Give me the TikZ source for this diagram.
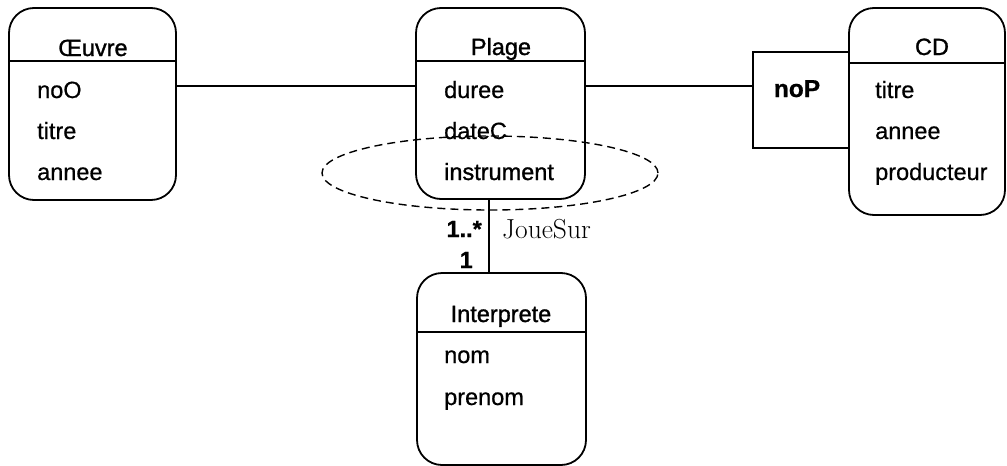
\documentclass[tikz,border=0pt]{standalone}
\usepackage{fontspec}
\newfontfamily\arial{Liberation Sans}[FakeBold=0.6]
\newfontfamily\arialh{Liberation Sans}[FakeBold=1.2]
\usetikzlibrary{calc,shapes.geometric}
\tikzset{
  entity/.style={draw, line width=1.8pt, rounded corners=25pt, inner sep=0pt},
  keybox/.style={draw, line width=1.8pt, inner sep=0pt},
  link/.style={line width=1.8pt},
  sep/.style={line width=1.8pt},
  txt/.style={inner sep=0pt, font=\arial\fontsize{23.5}{28}\selectfont},
  heavy/.style={inner sep=0pt, font=\arialh\fontsize{23.5}{28}\selectfont},
  attr/.style={txt, anchor=base west},
  title/.style={heavy, anchor=base},
  mult/.style={inner sep=0pt, anchor=base east, font=\arial\bfseries\fontsize{23.5}{28}\selectfont},
  role/.style={inner sep=0pt, anchor=base west, font=\fontsize{27.5}{30}\selectfont},
  group/.style={draw, dashed, line width=1.4pt, dash pattern=on 8pt off 5pt}
}
\begin{document}
\begin{tikzpicture}[x=1pt, y=-1pt]
\useasboundingbox (0,0) rectangle (1007,466);

% entity boxes
\node[entity, minimum width=167pt, minimum height=192pt] (oeuvre) at (92.5,104) {};
\node[entity, minimum width=169pt, minimum height=191pt] (plage) at (500.5,103.5) {};
\node[entity, minimum width=156pt, minimum height=207pt] (cd) at (927,111.5) {};
\node[entity, minimum width=169pt, minimum height=192pt] (interp) at (501.5,369) {};
\node[keybox, minimum width=96pt, minimum height=96pt] (nop) at (801,100) {};

% header separators
\draw[sep] ($(oeuvre.north west)+(0,54)$) -- ($(oeuvre.north east)+(0,54)$);
\draw[sep] ($(plage.north west)+(0,54)$) -- ($(plage.north east)+(0,54)$);
\draw[sep] ($(cd.north west)+(0,56)$) -- ($(cd.north east)+(0,56)$);
\draw[sep] ($(interp.north west)+(0,60)$) -- ($(interp.north east)+(0,60)$);

% titles
\node[title] (t1) at (93,56) {Œuvre};
\node[title] (t2) at (501,55) {Plage};
\node[title] (t3) at (932,55) {CD};
\node[title] (t4) at (501,322) {Interprete};

% attributes
\node[attr] (a1) at (37,98) {noO};
\node[attr] (a2) at (37,139) {titre};
\node[attr] (a3) at (37,180) {annee};

\node[attr] (b1) at (444,98) {duree};
\node[attr] (b2) at (444,139) {dateC};
\node[heavy, anchor=base west] (b3) at (444,180) {instrument};

\node[attr] (c1) at (875,98) {titre};
\node[attr] (c2) at (875,139) {annee};
\node[attr] (c3) at (875,180) {producteur};

\node[attr] (d1) at (444,363) {nom};
\node[attr] (d2) at (444,405) {prenom};

\node[inner sep=0pt, anchor=base, font=\arial\bfseries\fontsize{24.5}{28}\selectfont] (k) at (797,97) {noP};

% connectors
\coordinate (p1) at (oeuvre.east |- 0,86);
\coordinate (p2) at (plage.west |- 0,86);
\coordinate (p3) at (plage.east |- 0,86);
\coordinate (p4) at (nop.west |- 0,86);
\coordinate (p5) at (489,0 |- plage.south);
\coordinate (p6) at (489,0 |- interp.north);
\draw[link] (p1) -- (p2);
\draw[link] (p3) -- (p4);
\draw[link] (p5) -- (p6);

% grouping ellipse
\node[group, ellipse, minimum width=336pt, minimum height=74pt, inner sep=0pt] (grp) at (490,173) {};

% association labels
\node[mult] (m1) at (482,237) {1..*};
\node[mult] (m2) at (473,268) {1};
\node[role] (r) at (502,238) {JoueSur};
\end{tikzpicture}
\end{document}
